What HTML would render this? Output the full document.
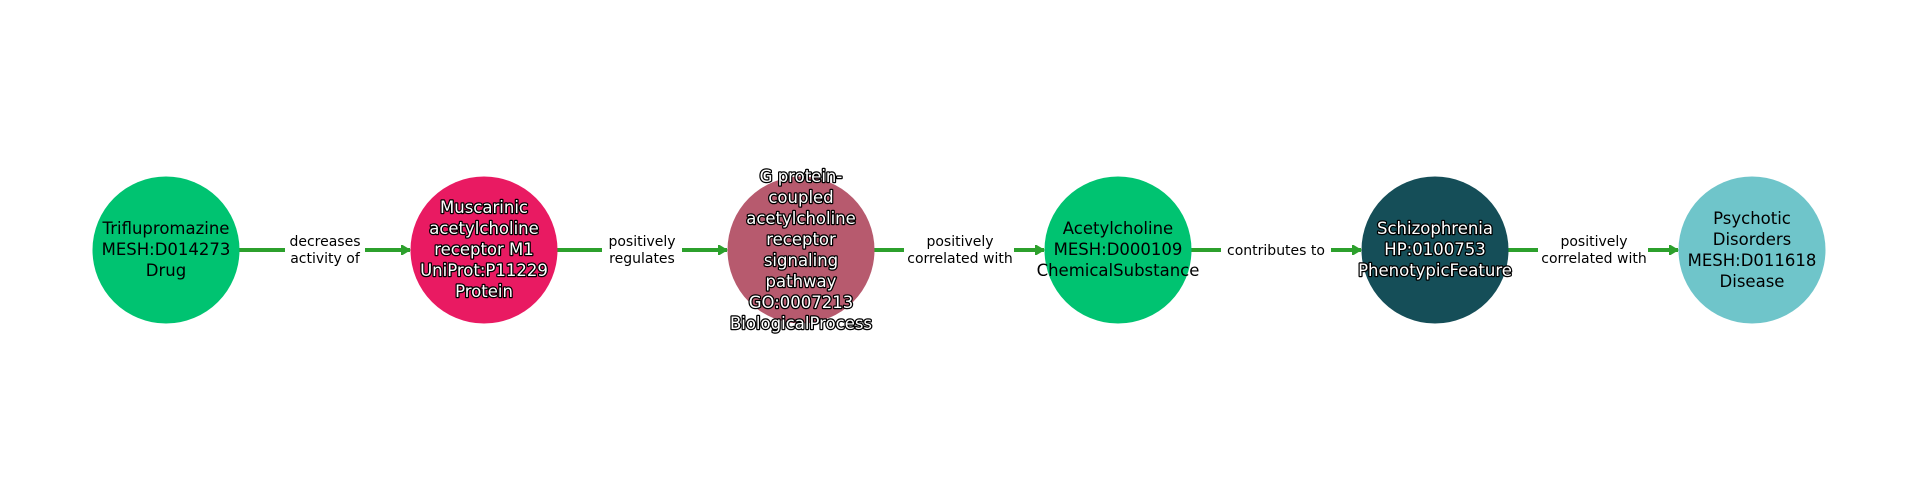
<!DOCTYPE html>
<html><head><meta charset="utf-8"><style>
html,body{margin:0;padding:0;background:#fff;}
svg{display:block;}
text{font-family:"DejaVu Sans","Liberation Sans",sans-serif;}
.n{font-size:16.5px;text-anchor:middle;}
.w{fill:#fff;stroke:#000;stroke-width:2.5px;paint-order:stroke;stroke-linejoin:round;}
.e{font-size:14px;text-anchor:middle;fill:#000;}
</style></head><body>
<svg width="1920" height="500" viewBox="0 0 1920 500" xmlns="http://www.w3.org/2000/svg">
<defs><marker id="a" markerWidth="10" markerHeight="10" refX="9" refY="5" orient="auto" markerUnits="userSpaceOnUse"><path d="M0,-1 L10,5 L0,11 Z" fill="#2ca02c"/></marker></defs>
<g stroke="#2ca02c" stroke-width="4" fill="none">
<line x1="239" y1="250" x2="410" y2="250" marker-end="url(#a)"/>
<line x1="556" y1="250" x2="727" y2="250" marker-end="url(#a)"/>
<line x1="873" y1="250" x2="1044" y2="250" marker-end="url(#a)"/>
<line x1="1190" y1="250" x2="1361" y2="250" marker-end="url(#a)"/>
<line x1="1507" y1="250" x2="1678" y2="250" marker-end="url(#a)"/>
</g>
<g fill="#fff">
<rect x="285" y="232" width="80" height="36"/>
<rect x="602" y="232" width="80" height="36"/>
<rect x="904" y="232" width="110" height="36"/>
<rect x="1221" y="240" width="110" height="20"/>
<rect x="1538" y="232" width="110" height="36"/>
</g>
<text class="e"><tspan x="325" y="246">decreases</tspan><tspan x="325" y="263">activity of</tspan></text>
<text class="e"><tspan x="642" y="246">positively</tspan><tspan x="642" y="263">regulates</tspan></text>
<text class="e"><tspan x="960" y="246">positively</tspan><tspan x="960" y="263">correlated with</tspan></text>
<text class="e"><tspan x="1276" y="255">contributes to</tspan></text>
<text class="e"><tspan x="1594" y="246">positively</tspan><tspan x="1594" y="263">correlated with</tspan></text>
<circle cx="166" cy="250" r="73.5" fill="#00c371"/>
<circle cx="484" cy="250" r="73.5" fill="#e91a62"/>
<circle cx="801" cy="250" r="73.5" fill="#b75a6e"/>
<circle cx="1118" cy="250" r="73.5" fill="#00c371"/>
<circle cx="1435" cy="250" r="73.5" fill="#154e58"/>
<circle cx="1752" cy="250" r="73.5" fill="#6fc5ca"/>
<text class="n"><tspan x="166" y="234">Triflupromazine</tspan><tspan x="166" y="255">MESH:D014273</tspan><tspan x="166" y="276">Drug</tspan></text>
<text class="n w"><tspan x="484" y="213">Muscarinic</tspan><tspan x="484" y="234">acetylcholine</tspan><tspan x="484" y="255">receptor M1</tspan><tspan x="484" y="276">UniProt:P11229</tspan><tspan x="484" y="297">Protein</tspan></text>
<text class="n w"><tspan x="801" y="182">G protein-</tspan><tspan x="801" y="203">coupled</tspan><tspan x="801" y="224">acetylcholine</tspan><tspan x="801" y="245">receptor</tspan><tspan x="801" y="266">signaling</tspan><tspan x="801" y="287">pathway</tspan><tspan x="801" y="308">GO:0007213</tspan><tspan x="801" y="329">BiologicalProcess</tspan></text>
<text class="n"><tspan x="1118" y="234">Acetylcholine</tspan><tspan x="1118" y="255">MESH:D000109</tspan><tspan x="1118" y="276">ChemicalSubstance</tspan></text>
<text class="n w"><tspan x="1435" y="234">Schizophrenia</tspan><tspan x="1435" y="255">HP:0100753</tspan><tspan x="1435" y="276">PhenotypicFeature</tspan></text>
<text class="n"><tspan x="1752" y="224">Psychotic</tspan><tspan x="1752" y="245">Disorders</tspan><tspan x="1752" y="266">MESH:D011618</tspan><tspan x="1752" y="287">Disease</tspan></text>
</svg>
</body></html>
